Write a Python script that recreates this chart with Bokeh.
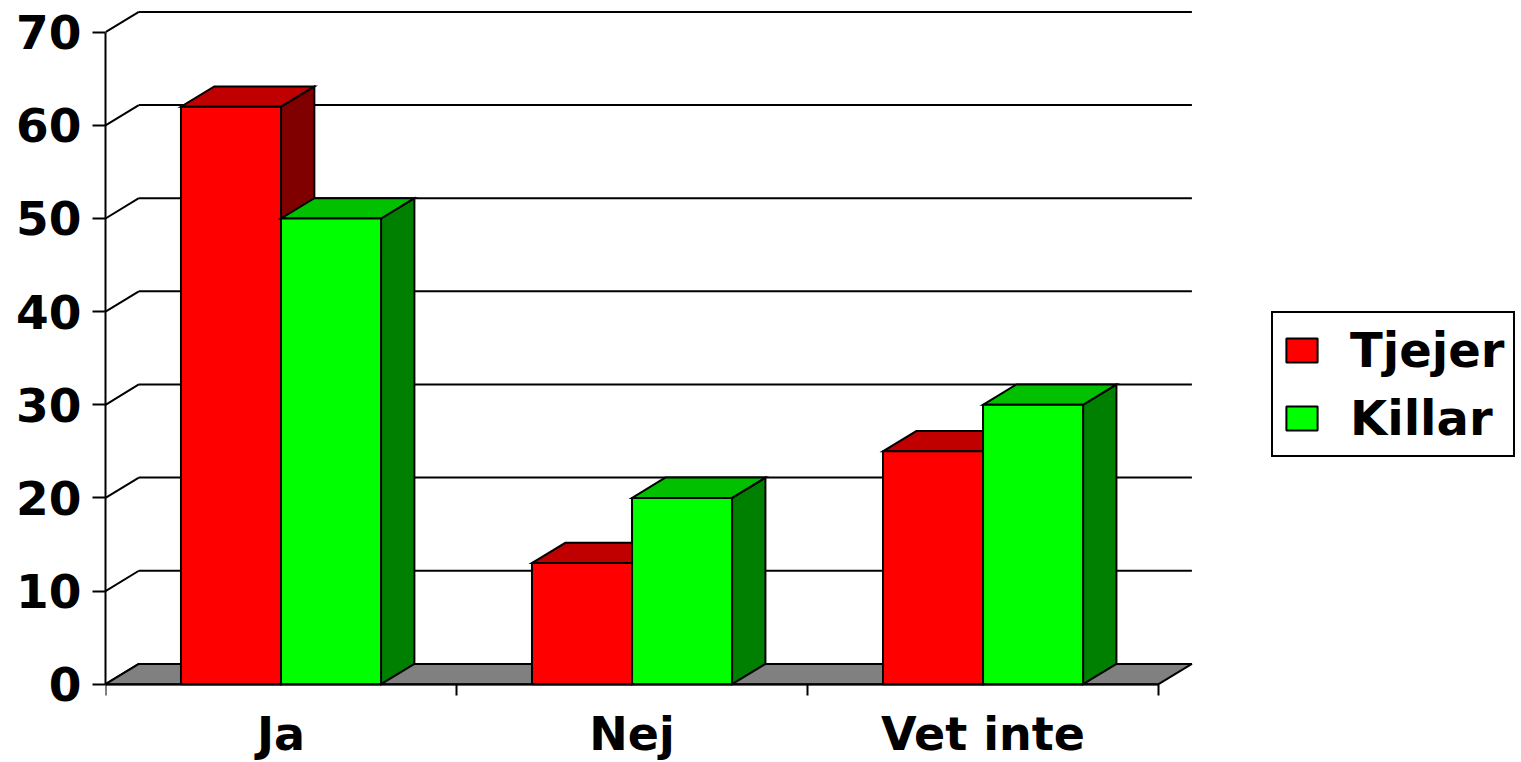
import numpy as np
from bokeh.plotting import figure
from bokeh.models import FixedTicker, Legend, LegendItem, Range1d
from bokeh.embed import file_html
from bokeh.resources import INLINE

# ---- data ----
categories = ["Ja", "Nej", "Vet inte"]
series_names = ["Tjejer", "Killar"]
tjejer = [62, 13, 25]
killar = [50, 20, 30]
y_ticks = [0, 10, 20, 30, 40, 50, 60, 70]

# ---- style ----
FONT = "DejaVu Sans"
BAR_W = 0.285
DX = 0.095   # depth offset (x units)
DY = 2.18    # depth offset (y units)
front_colors = ["#FF0000", "#00FF00"]
top_colors = ["#C00000", "#00C000"]
side_colors = ["#800000", "#008000"]
LW = 2

n_cat = len(categories)
cat_x = np.arange(n_cat) + 0.5
yt = np.array(y_ticks, dtype=float)

p = figure(width=1521, height=762, output_backend="svg", toolbar_location=None,
           x_range=Range1d(0, 4.034), y_range=Range1d(-8.407, 73.405),
           min_border_left=105, min_border_right=0, min_border_top=0, min_border_bottom=0)
p.outline_line_color = None
p.grid.visible = False
p.background_fill_color = "white"
p.border_fill_color = "white"

# back wall gridlines
p.segment(x0=np.full(len(yt), DX), y0=yt + DY, x1=np.full(len(yt), n_cat + DX), y1=yt + DY,
          line_color="black", line_width=LW)
# side wall diagonals from the front axis
p.segment(x0=np.zeros(len(yt)), y0=yt, x1=np.full(len(yt), DX), y1=yt + DY,
          line_color="black", line_width=LW)
# floor
p.patch(x=[0, n_cat, n_cat + DX, DX], y=[0, 0, DY, DY],
        fill_color="#808080", line_color="black", line_width=LW)

fronts = []
for s, vals in enumerate([tjejer, killar]):
    vals = np.array(vals, dtype=float)
    centers = cat_x + (s - 0.5) * BAR_W
    left = centers - BAR_W / 2
    right = centers + BAR_W / 2
    side_xs = [[r, r + DX, r + DX, r] for r in right]
    side_ys = [[0, DY, v + DY, v] for v in vals]
    p.patches(xs=side_xs, ys=side_ys, fill_color=side_colors[s], line_color="black",
              line_width=LW, line_join="miter")
    top_xs = [[l, r, r + DX, l + DX] for l, r in zip(left, right)]
    top_ys = [[v, v, v + DY, v + DY] for v in vals]
    p.patches(xs=top_xs, ys=top_ys, fill_color=top_colors[s], line_color="black",
              line_width=LW, line_join="miter")
    r = p.vbar(x=centers, width=BAR_W, top=vals, bottom=0, fill_color=front_colors[s],
               line_color="black", line_width=LW)
    fronts.append(r)

# x axis
xa = p.xaxis[0]
xa.fixed_location = 0
xa.ticker = FixedTicker(ticks=list(cat_x), minor_ticks=list(range(n_cat + 1)))
xa.major_label_overrides = {float(c): lab for c, lab in zip(cat_x, categories)}
xa.major_tick_line_color = None
xa.major_tick_out = 0
xa.major_tick_in = 0
xa.minor_tick_out = 11
xa.minor_tick_in = 0
xa.minor_tick_line_color = "black"
xa.minor_tick_line_width = LW
xa.axis_line_width = LW
xa.axis_line_color = "black"
xa.bounds = (0, n_cat)
xa.major_label_standoff = 12
xa.major_label_text_font = FONT
xa.major_label_text_font_style = "bold"
xa.major_label_text_font_size = "46px"
xa.major_label_text_color = "black"

# y axis
ya = p.yaxis[0]
ya.ticker = FixedTicker(ticks=y_ticks, minor_ticks=[])
ya.bounds = (0, max(y_ticks))
ya.major_tick_out = 13
ya.major_tick_in = 0
ya.major_tick_line_width = LW
ya.major_tick_line_color = "black"
ya.minor_tick_line_color = None
ya.axis_line_width = LW
ya.axis_line_color = "black"
ya.major_label_standoff = 11
ya.major_label_text_font = FONT
ya.major_label_text_font_style = "bold"
ya.major_label_text_font_size = "47px"
ya.major_label_text_color = "black"

legend = Legend(items=[LegendItem(label=n, renderers=[r]) for n, r in zip(series_names, fronts)],
                location=(1166, 305))
legend.glyph_width = 39
legend.glyph_height = 30
legend.label_standoff = 29
legend.padding = 9
legend.spacing = 12
legend.margin = 0
legend.border_line_color = "black"
legend.border_line_alpha = 1
legend.border_line_width = LW
legend.background_fill_color = "white"
legend.background_fill_alpha = 1
legend.label_text_font = FONT
legend.label_text_font_style = "bold"
legend.label_text_font_size = "48px"
legend.label_text_color = "black"
p.add_layout(legend)

open("out.html", "w").write(file_html(p, INLINE))
